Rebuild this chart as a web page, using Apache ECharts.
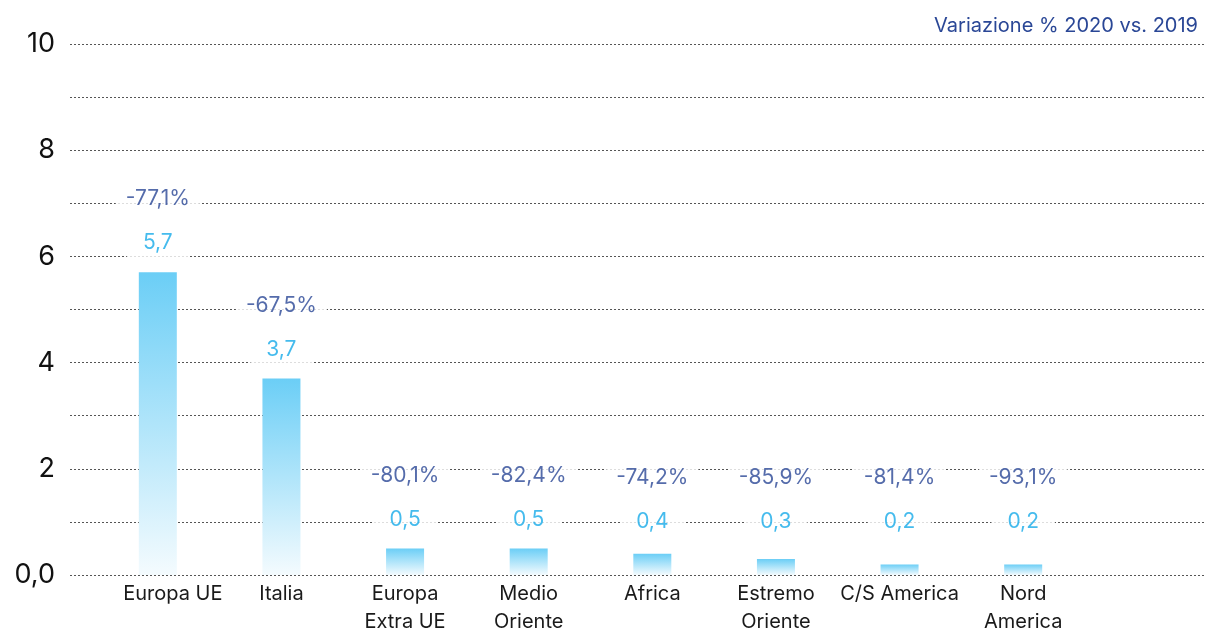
<!DOCTYPE html>
<html>
<head>
<meta charset="utf-8">
<script src="https://cdn.jsdelivr.net/npm/echarts@6/dist/echarts.min.js"></script>
<style>
  html, body { margin: 0; padding: 0; background: #fff; }
  #main { width: 1206px; height: 628px; }
</style>
</head>
<body>
<div id="main"></div>
<script>
var categories = ['Europa UE', 'Italia', 'Europa\nExtra UE', 'Medio\nOriente', 'Africa', 'Estremo\nOriente', 'C/S America', 'Nord\nAmerica'];
var values = [5.7, 3.7, 0.5, 0.5, 0.4, 0.3, 0.2, 0.2];
var changes = ['-77,1%', '-67,5%', '-80,1%', '-82,4%', '-74,2%', '-85,9%', '-81,4%', '-93,1%'];
var yTickLabels = { 0: '0,0', 2: '2', 4: '4', 6: '6', 8: '8', 10: '10' };
var subtitle = 'Variazione % 2020 vs. 2019';

var FONT = 'Inter';
var lightBlue = '#16aae9';
var darkBlue = '#2a4796';

function fmt(v) {
    return String(v).replace('.', ',');
}

// label anchors: just above the bar, never below the 1-line
var anchors = values.map(function (v) { return Math.max(v + 0.55, 1); });

var myChart = echarts.init(document.getElementById('main'));

var option = {
    animation: false,
    backgroundColor: '#fff',
    title: {
        text: subtitle,
        right: 3,
        top: 11,
        textStyle: { fontFamily: FONT, fontSize: 20, fontWeight: 400, color: darkBlue }
    },
    grid: [
        { left: 70, right: 1, top: 44, bottom: 53, outerBoundsMode: 'none' },
        { left: 96, right: 121, top: 44, bottom: 53, outerBoundsMode: 'none' }
    ],
    xAxis: [
        { gridIndex: 0, type: 'value', show: false, min: 0, max: 1 },
        {
            gridIndex: 1,
            type: 'category',
            data: categories.map(function (c, i) {
                return i === 0 ? { value: c, textStyle: { padding: [0, 0, 0, 30] } } : c;
            }),
            axisLine: { show: false },
            axisTick: { show: false },
            axisLabel: {
                interval: 0,
                margin: 5,
                fontFamily: FONT,
                fontSize: 20,
                fontWeight: 400,
                lineHeight: 28,
                color: '#1a1a1a'
            }
        }
    ],
    yAxis: [
        {
            gridIndex: 0,
            type: 'value',
            min: 0,
            max: 10,
            interval: 1,
            axisLine: { show: false },
            axisTick: { show: false },
            axisLabel: {
                margin: 15,
                fontFamily: FONT,
                fontSize: 27,
                fontWeight: 400,
                color: '#111',
                formatter: function (v) {
                    return yTickLabels[v] !== undefined ? yTickLabels[v] : '';
                }
            },
            splitLine: { lineStyle: { color: '#555', type: [2, 2], width: 1 } }
        },
        { gridIndex: 1, type: 'value', min: 0, max: 10, show: false, splitLine: { show: false } }
    ],
    series: [
        {
            type: 'bar',
            xAxisIndex: 1,
            yAxisIndex: 1,
            barWidth: 38,
            data: values,
            itemStyle: {
                color: new echarts.graphic.LinearGradient(0, 0, 0, 1, [
                    { offset: 0, color: '#6bcef6' },
                    { offset: 1, color: '#f4fbfe' }
                ])
            }
        },
        {
            type: 'scatter',
            xAxisIndex: 1,
            yAxisIndex: 1,
            symbolSize: 0,
            data: anchors,
            z: 5,
            label: {
                show: true,
                position: 'inside',
                fontFamily: FONT,
                fontSize: 21,
                fontWeight: 400,
                color: lightBlue,
                backgroundColor: '#fff',
                padding: [4, 16],
                formatter: function (p) { return fmt(values[p.dataIndex]); }
            }
        },
        {
            type: 'scatter',
            xAxisIndex: 1,
            yAxisIndex: 1,
            symbolSize: 0,
            data: anchors,
            z: 5,
            label: {
                show: true,
                position: 'inside',
                offset: [0, -44],
                fontFamily: FONT,
                fontSize: 21,
                fontWeight: 400,
                color: darkBlue,
                backgroundColor: '#fff',
                padding: [4, 10],
                formatter: function (p) { return changes[p.dataIndex]; }
            }
        }
    ]
};

myChart.setOption(option);
</script>
</body>
</html>
